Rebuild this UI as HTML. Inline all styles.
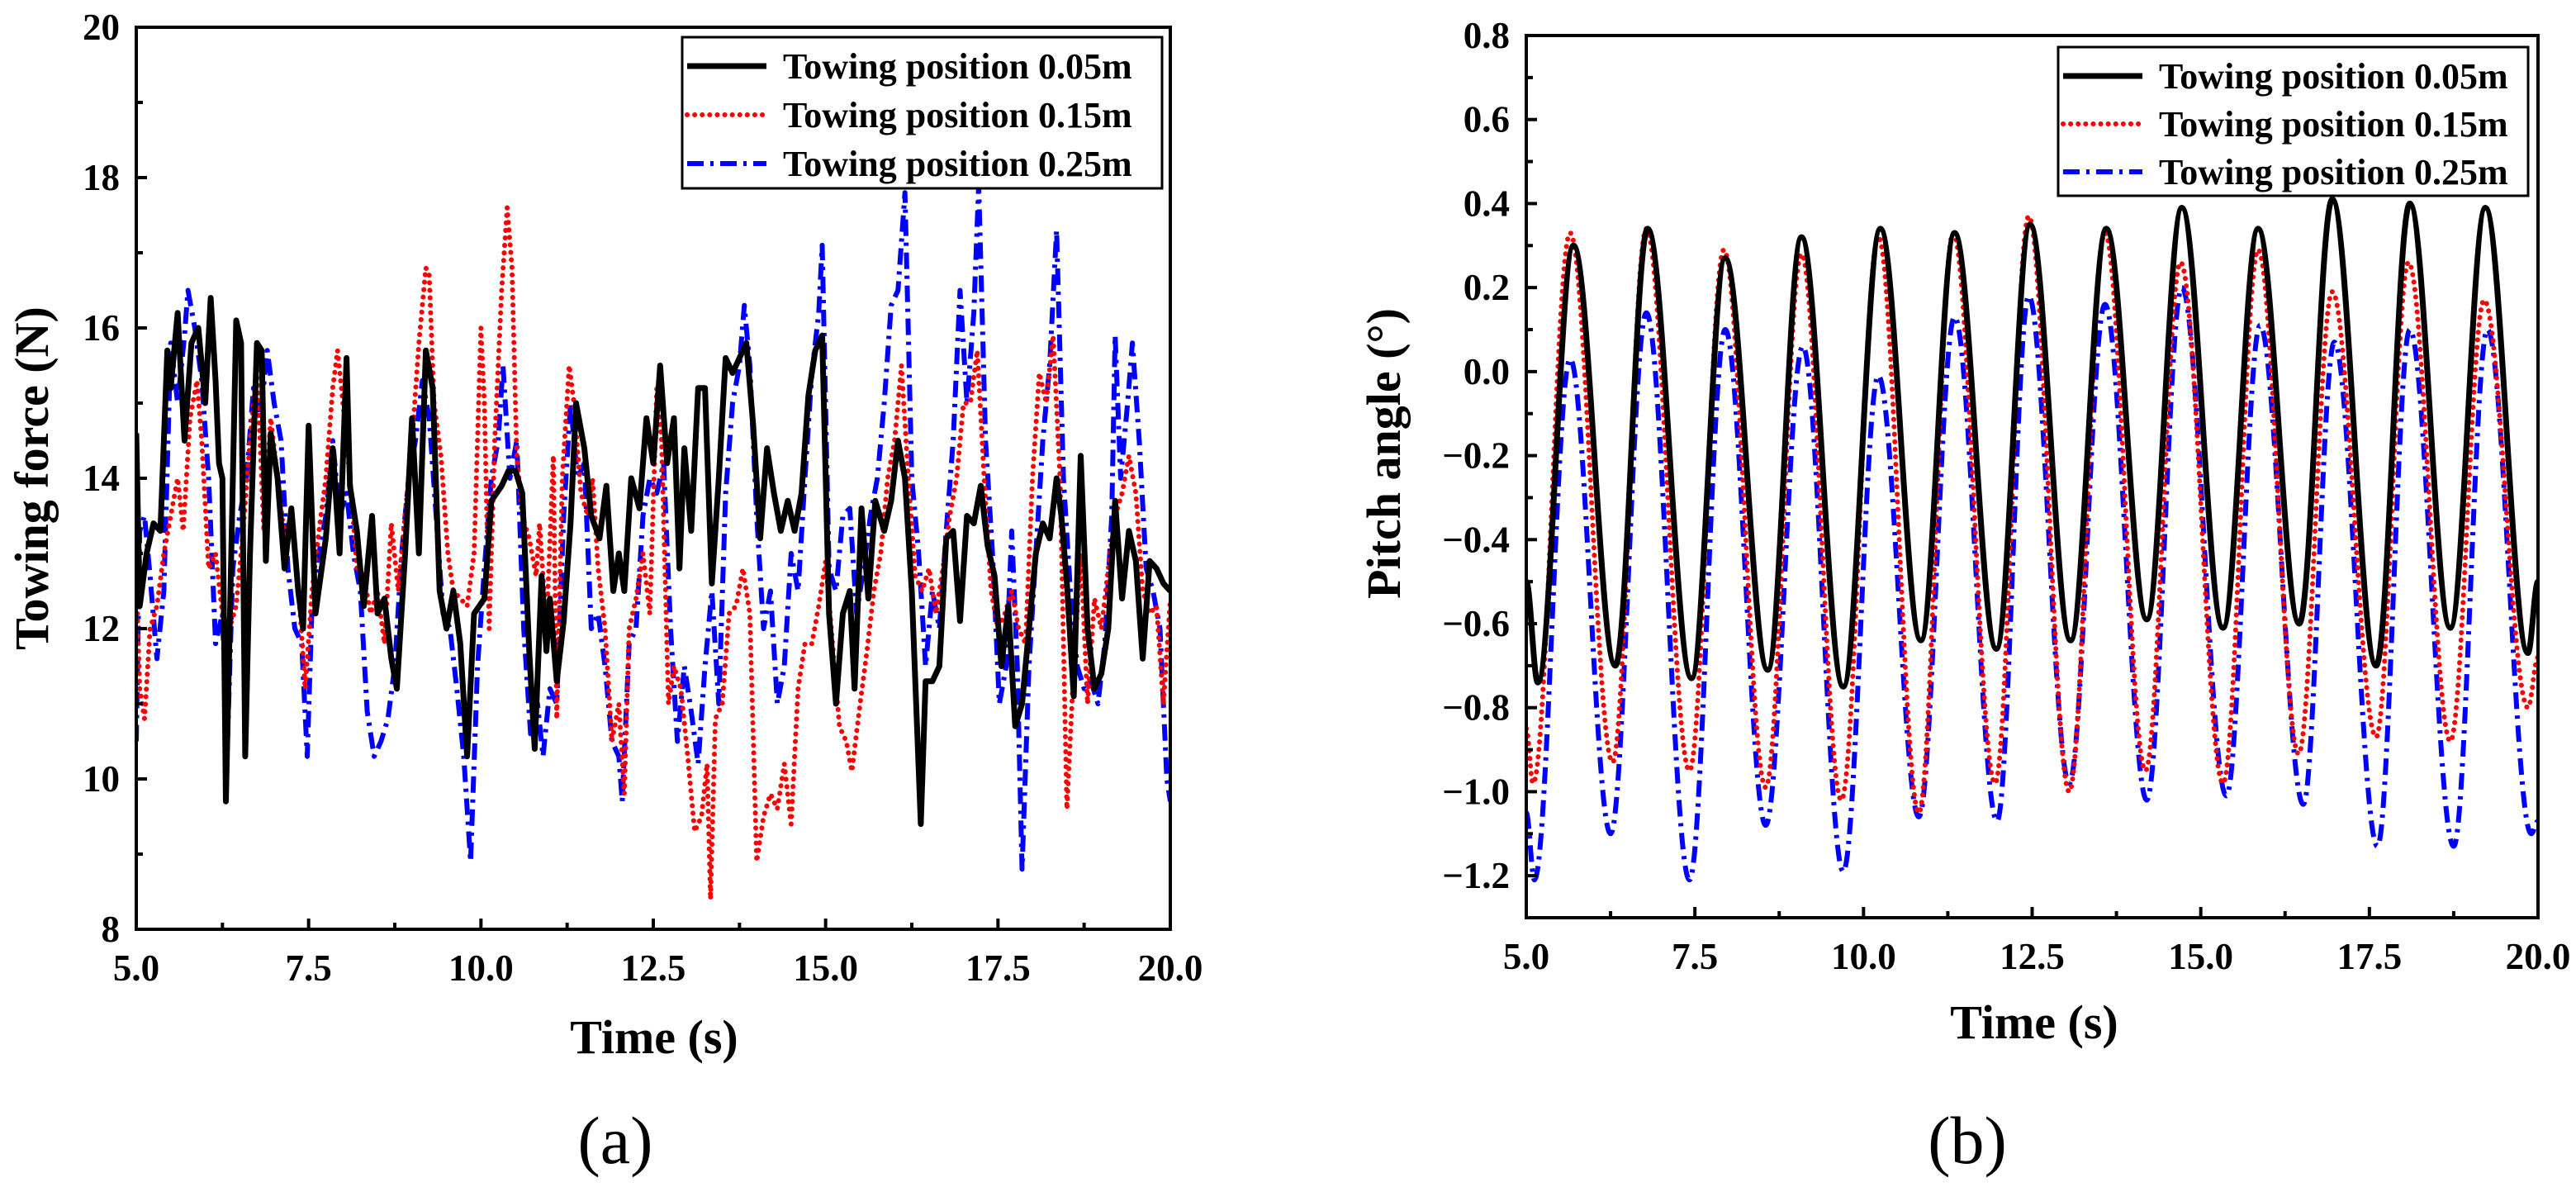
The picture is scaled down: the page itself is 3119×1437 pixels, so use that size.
<!DOCTYPE html>
<html><head><meta charset="utf-8">
<style>
html,body{margin:0;padding:0;background:#fff;overflow:hidden;}
svg{display:block;font-family:"Liberation Serif",serif;}
</style></head>
<body>
<svg id="fig" width="3119" height="1437" viewBox="0 0 3119 1437" xmlns="http://www.w3.org/2000/svg"></svg>
<script>
// ---------- Panel (a) data: towing force ----------
const aBlackT=[5.0,5.05,5.15,5.25,5.35,5.45,5.5,5.6,5.7,5.8,5.9,6.0,6.08,6.15,6.2,6.25,6.3,6.35,6.45,6.52,6.58,6.65,6.75,6.82,6.88,6.95,7.05,7.15,7.25,7.35,7.42,7.5,7.6,7.75,7.85,7.95,8.05,8.1,8.2,8.3,8.42,8.5,8.6,8.7,8.78,8.9,9.0,9.1,9.2,9.3,9.4,9.5,9.6,9.7,9.8,9.9,10.05,10.15,10.3,10.4,10.5,10.6,10.7,10.78,10.88,10.95,11.0,11.1,11.2,11.3,11.38,11.5,11.6,11.72,11.82,11.92,12.0,12.08,12.18,12.3,12.4,12.5,12.6,12.7,12.8,12.88,12.95,13.05,13.15,13.25,13.35,13.45,13.55,13.65,13.75,13.85,13.95,14.05,14.15,14.25,14.35,14.45,14.55,14.65,14.75,14.85,14.95,15.05,15.15,15.25,15.35,15.42,15.52,15.62,15.72,15.85,15.95,16.05,16.15,16.25,16.38,16.45,16.55,16.65,16.75,16.85,16.95,17.05,17.15,17.25,17.35,17.45,17.55,17.65,17.75,17.85,17.95,18.05,18.15,18.25,18.35,18.42,18.5,18.6,18.7,18.8,18.9,19.0,19.1,19.2,19.3,19.4,19.5,19.6,19.7,19.8,19.9,20.0];
const aBlackV=[14.6,12.3,13.0,13.4,13.3,15.7,15.2,16.2,14.5,15.8,16.0,15.0,16.4,15.3,14.2,14.0,9.7,11.8,16.1,15.8,10.3,13.0,15.8,15.7,12.9,14.6,14.0,12.8,13.6,12.5,12.0,14.7,12.2,13.2,14.4,13.0,15.6,13.9,13.3,12.3,13.5,12.2,12.4,11.6,11.2,13.0,14.8,13.0,15.7,15.2,12.5,12.0,12.5,11.8,10.3,12.2,12.4,13.7,13.9,14.1,14.1,13.8,11.7,10.4,12.7,11.7,12.4,11.3,12.1,13.4,15.0,14.4,13.5,13.2,13.9,12.5,13.0,12.5,14.0,13.6,14.8,14.2,15.5,14.2,14.8,12.8,14.4,13.3,15.2,15.2,12.6,14.0,15.6,15.4,15.6,15.8,14.7,13.2,14.4,13.8,13.3,13.7,13.3,13.8,15.1,15.7,15.9,12.2,11.0,12.2,12.5,11.2,13.6,12.4,13.7,13.3,13.7,14.5,14.0,12.5,9.4,11.3,11.3,11.5,13.2,13.3,12.1,13.5,13.4,13.9,13.1,12.7,11.5,12.3,10.7,11.0,12.0,13.0,13.4,13.2,14.0,13.5,12.6,11.1,14.3,12.0,11.2,11.4,12.0,13.7,12.4,13.3,12.9,11.6,12.9,12.8,12.6,12.5];
const aRedT=[5.0,5.05,5.12,5.2,5.3,5.4,5.5,5.6,5.68,5.78,5.88,5.95,6.05,6.15,6.25,6.35,6.45,6.55,6.65,6.75,6.85,6.95,7.05,7.15,7.25,7.35,7.45,7.55,7.65,7.75,7.85,7.92,8.02,8.12,8.2,8.3,8.4,8.5,8.6,8.7,8.8,8.9,9.0,9.1,9.2,9.25,9.32,9.42,9.52,9.6,9.7,9.8,9.9,10.0,10.05,10.12,10.2,10.3,10.38,10.45,10.52,10.6,10.7,10.8,10.85,10.95,11.05,11.1,11.18,11.28,11.35,11.45,11.55,11.62,11.7,11.8,11.9,12.0,12.08,12.15,12.25,12.35,12.45,12.55,12.62,12.72,12.8,12.9,13.0,13.1,13.2,13.28,13.33,13.4,13.5,13.6,13.7,13.8,13.9,14.0,14.1,14.2,14.3,14.4,14.5,14.6,14.7,14.8,14.9,15.0,15.1,15.2,15.3,15.38,15.5,15.6,15.7,15.8,15.9,16.0,16.1,16.2,16.3,16.4,16.5,16.6,16.7,16.8,16.9,17.0,17.1,17.2,17.3,17.4,17.5,17.6,17.7,17.8,17.9,18.0,18.1,18.2,18.3,18.4,18.5,18.6,18.7,18.8,18.9,19.0,19.1,19.2,19.3,19.4,19.5,19.6,19.7,19.8,19.9,20.0];
const aRedV=[12.7,11.2,10.8,12.0,12.3,13.0,13.5,14.0,13.3,14.8,15.3,14.5,12.8,13.0,12.2,12.0,12.3,13.3,14.5,15.5,13.3,14.8,14.0,13.2,13.5,12.6,11.2,12.5,13.3,14.0,15.2,15.7,14.8,13.8,12.8,12.7,12.2,12.5,11.8,13.4,12.5,13.5,14.5,15.8,16.8,16.7,15.0,14.3,13.0,12.5,12.4,12.3,13.0,16.0,15.0,12.0,14.5,16.5,17.6,16.8,14.3,13.5,13.2,12.7,13.4,12.0,14.3,10.8,14.0,15.5,15.0,13.8,13.5,14.0,12.8,12.0,10.5,11.0,9.8,12.0,12.4,13.0,12.2,15.2,14.5,11.0,11.5,11.2,10.3,9.3,9.5,10.2,8.4,10.8,11.0,12.2,12.3,12.8,12.2,8.9,9.5,9.8,9.6,10.2,9.4,11.2,11.8,11.8,12.3,12.9,11.8,10.7,10.5,10.1,11.0,11.7,12.5,13.0,14.0,14.5,15.5,14.0,12.7,12.5,12.8,12.2,12.8,13.5,14.0,15.0,15.0,15.7,14.0,12.5,12.0,12.2,12.5,12.0,11.8,14.0,15.4,15.0,15.9,14.0,9.6,11.5,13.0,11.0,12.4,12.0,12.8,13.5,13.8,14.3,13.8,12.5,12.2,12.3,11.0,12.4];
const aBlueT=[5.0,5.05,5.12,5.2,5.3,5.4,5.5,5.6,5.7,5.75,5.85,5.95,6.05,6.15,6.25,6.32,6.4,6.5,6.6,6.7,6.8,6.9,7.0,7.1,7.2,7.3,7.4,7.48,7.55,7.65,7.75,7.85,7.95,8.05,8.15,8.25,8.35,8.45,8.55,8.65,8.75,8.85,8.95,9.05,9.15,9.25,9.35,9.45,9.55,9.65,9.75,9.85,9.95,10.05,10.15,10.25,10.32,10.42,10.52,10.62,10.72,10.82,10.9,11.0,11.1,11.2,11.3,11.4,11.5,11.6,11.7,11.8,11.9,12.0,12.05,12.15,12.25,12.35,12.45,12.55,12.65,12.75,12.85,12.95,13.05,13.15,13.25,13.35,13.45,13.55,13.65,13.75,13.82,13.9,14.0,14.1,14.2,14.3,14.4,14.5,14.6,14.7,14.8,14.9,14.95,15.05,15.15,15.25,15.35,15.45,15.55,15.65,15.75,15.85,15.95,16.05,16.15,16.25,16.35,16.45,16.55,16.65,16.75,16.85,16.95,17.05,17.15,17.22,17.32,17.42,17.52,17.62,17.7,17.78,17.85,17.95,18.05,18.15,18.25,18.35,18.45,18.55,18.65,18.75,18.85,18.95,19.05,19.15,19.2,19.28,19.38,19.45,19.55,19.65,19.75,19.85,19.95,20.0];
const aBlueV=[10.5,13.3,13.5,12.7,11.6,12.5,15.8,15.0,15.9,16.5,16.0,15.3,14.0,11.8,12.2,10.4,12.8,13.5,14.0,15.2,14.8,15.7,15.0,14.5,12.8,12.0,11.8,10.3,12.3,13.0,13.5,14.5,13.5,13.8,13.0,12.5,10.9,10.3,10.5,10.8,11.5,13.0,14.0,14.5,15.3,14.8,13.5,12.2,12.0,11.2,10.3,8.9,11.5,12.8,14.0,14.5,15.5,14.0,14.5,12.0,10.6,11.0,10.3,11.2,11.0,13.5,15.0,14.0,14.2,12.0,12.2,11.5,10.5,10.3,9.7,11.8,12.0,13.5,14.0,13.8,14.2,12.0,10.5,11.5,10.9,10.2,11.5,12.5,11.0,13.8,15.0,15.5,16.3,15.5,13.5,12.0,12.5,11.0,11.5,13.0,12.5,14.0,15.4,16.2,17.1,12.8,12.5,13.5,13.6,12.2,12.8,13.5,14.0,15.0,16.3,16.5,17.8,14.0,13.0,11.5,12.5,12.0,13.3,14.5,16.5,15.0,16.2,17.9,14.5,13.0,11.0,11.5,13.3,11.5,8.8,11.5,13.0,14.5,15.5,17.3,14.0,12.5,11.5,11.2,11.3,11.0,11.8,13.5,15.9,14.0,15.0,15.8,14.5,12.8,12.5,12.0,10.0,9.7];
const aXTicks=["5.0","7.5","10.0","12.5","15.0","17.5","20.0"];
const aYTicks=["8","10","12","14","16","18","20"];

// ---------- Panel (b) data: pitch angle extrema ----------
const bBlackT=[5.0,5.17,5.7,6.32,6.8,7.45,7.95,8.58,9.08,9.7,10.25,10.85,11.35,11.97,12.47,13.07,13.6,14.2,14.72,15.33,15.85,16.46,16.95,17.6,18.1,18.7,19.22,19.85,20.0];
const bBlackV=[-0.5,-0.74,0.30,-0.70,0.34,-0.73,0.27,-0.71,0.32,-0.75,0.34,-0.64,0.33,-0.66,0.35,-0.64,0.34,-0.59,0.39,-0.61,0.34,-0.60,0.41,-0.70,0.40,-0.61,0.39,-0.67,-0.5];
const bRedT=[5.0,5.1,5.65,6.28,6.78,7.42,7.93,8.55,9.08,9.67,10.22,10.82,11.33,11.95,12.45,13.05,13.58,14.18,14.7,15.33,15.85,16.45,16.95,17.6,18.08,18.7,19.2,19.85,20.0];
const bRedV=[-0.85,-0.98,0.33,-0.93,0.34,-0.95,0.29,-0.99,0.28,-1.02,0.32,-1.05,0.33,-0.98,0.37,-1.0,0.33,-0.95,0.26,-0.98,0.29,-0.91,0.19,-0.87,0.26,-0.88,0.17,-0.80,-0.68];
const bBlueT=[5.0,5.12,5.65,6.25,6.78,7.42,7.95,8.55,9.1,9.7,10.22,10.82,11.35,11.98,12.45,13.05,13.58,14.2,14.72,15.38,15.88,16.52,16.98,17.62,18.1,18.75,19.25,19.9,20.0];
const bBlueV=[-1.05,-1.21,0.03,-1.10,0.14,-1.21,0.10,-1.08,0.06,-1.19,-0.01,-1.06,0.13,-1.07,0.18,-0.98,0.16,-1.02,0.20,-1.01,0.11,-1.03,0.07,-1.13,0.10,-1.13,0.10,-1.10,-1.07];
const bXTicks=["5.0","7.5","10.0","12.5","15.0","17.5","20.0"];
const bYTicks=["-1.2","-1.0","-0.8","-0.6","-0.4","-0.2","0.0","0.2","0.4","0.6","0.8"];

const NS="http://www.w3.org/2000/svg";
const svg=document.getElementById('fig');
function mk(tag,attrs,parent){const e=document.createElementNS(NS,tag);for(const k in attrs)e.setAttribute(k,attrs[k]);(parent||svg).appendChild(e);return e;}

function linePath(ts,vs,sx,sy){return ts.map((t,i)=>(i?'L':'M')+sx(t).toFixed(1)+' '+sy(vs[i]).toFixed(1)).join(' ');}
function smoothPath(ts,vs,sx,sy){let d='M'+sx(ts[0]).toFixed(1)+' '+sy(vs[0]).toFixed(1);
  for(let i=1;i<ts.length;i++){const x0=sx(ts[i-1]),x1=sx(ts[i]),y0=sy(vs[i-1]),y1=sy(vs[i]);const dx=(x1-x0)*0.36;
    d+=' C'+(x0+dx).toFixed(1)+' '+y0.toFixed(1)+' '+(x1-dx).toFixed(1)+' '+y1.toFixed(1)+' '+x1.toFixed(1)+' '+y1.toFixed(1);}
  return d;}

const styles=[
 {stroke:'#000',w:7,dash:null,cap:'butt'},
 {stroke:'#ff0000',w:6,dash:'0.1 9',cap:'round'},
 {stroke:'#0000ff',w:6,dash:'20 8 4 8',cap:'butt'}];
const legendLabels=["Towing position 0.05m","Towing position 0.15m","Towing position 0.25m"];

function panel(o){
  const g=mk('g',{});  
  const sx=t=>o.x0+(t-o.xmin)/(o.xmax-o.xmin)*(o.x1-o.x0);
  const sy=v=>o.y1-(v-o.ymin)/(o.ymax-o.ymin)*(o.y1-o.y0);
  const clipId='clip'+o.id;
  const cp=mk('clipPath',{id:clipId},g); mk('rect',{x:o.x0,y:o.y0,width:o.x1-o.x0,height:o.y1-o.y0},cp);
  const series=[[o.s[0],o.s[1]],[o.s[2],o.s[3]],[o.s[4],o.s[5]]];
  const sg=mk('g',{'clip-path':'url(#'+clipId+')'},g);
  const names=['series-0-05m','series-0-15m','series-0-25m'];
  [2,1,0].forEach(i=>{const st=styles[i];
    const p=mk('path',{d:(o.smooth?smoothPath:linePath)(series[i][0],series[i][1],sx,sy),fill:'none',stroke:st.stroke,'stroke-width':st.w,'stroke-linejoin':'round','stroke-linecap':st.cap},sg);
    if(st.dash)p.setAttribute('stroke-dasharray',st.dash);
    
    });
  const fr=mk('rect',{x:o.x0,y:o.y0,width:o.x1-o.x0,height:o.y1-o.y0,fill:'none',stroke:'#000','stroke-width':4},g);
   
  const xstep=(o.xmax-o.xmin)/(o.xTicks.length-1);
  for(let i=0;i<o.xTicks.length;i++){const v=o.xmin+i*xstep;const X=sx(v);
    mk('line',{x1:X,y1:o.y1,x2:X,y2:o.y1-13,stroke:'#000','stroke-width':4},g);
    if(i<o.xTicks.length-1){const Xm=sx(v+xstep/2);mk('line',{x1:Xm,y1:o.y1,x2:Xm,y2:o.y1-8,stroke:'#000','stroke-width':4},g);}
    const t=mk('text',{x:X,y:o.y1+62,'font-size':45,'font-weight':'bold','text-anchor':'middle'},g);t.textContent=o.xTicks[i];
     }
  const ystep=(o.yTickMax-o.yTickMin)/(o.yTicks.length-1);
  for(let i=0;i<o.yTicks.length;i++){const v=o.yTickMin+i*ystep;const Y=sy(v);
    mk('line',{x1:o.x0,y1:Y,x2:o.x0+13,y2:Y,stroke:'#000','stroke-width':4},g);
    const vm=v+ystep/2; if(vm<o.ymax){const Ym=sy(vm);mk('line',{x1:o.x0,y1:Ym,x2:o.x0+8,y2:Ym,stroke:'#000','stroke-width':4},g);}
    const vmb=v-ystep/2; if(i==0&&vmb>=o.ymin){const Ym=sy(vmb);mk('line',{x1:o.x0,y1:Ym,x2:o.x0+8,y2:Ym,stroke:'#000','stroke-width':4},g);}
    const t=mk('text',{x:o.x0-20,y:Y+15,'font-size':45,'font-weight':'bold','text-anchor':'end'},g);t.textContent=o.yTicks[i].replace('-','\u2212');
     }
  const xt=mk('text',{x:o.xtx,y:o.xty,'font-size':58,'font-weight':'bold','text-anchor':'middle'},g);xt.textContent='Time (s)';
   
  const yt=mk('text',{x:0,y:0,'font-size':58,'font-weight':'bold','text-anchor':'middle',transform:'translate('+o.ytx+','+o.yty+') rotate(-90)'},g);yt.textContent=o.ytitle;
   
  const cap=mk('text',{x:o.capx,y:1408,'font-size':82,'text-anchor':'middle'},g);cap.textContent=o.caption;
   
  const lg=mk('g',{},g);  
  mk('rect',{x:o.lx0,y:o.ly0,width:o.lx1-o.lx0,height:o.ly1-o.ly0,fill:'#fff',stroke:'#000','stroke-width':3},lg);
  for(let i=0;i<3;i++){const Y=o.ly0+35+i*o.lgap;const st=styles[i];
    const e=mk('g',{},lg);  
    const l=mk('line',{x1:o.lx0+6,y1:Y,x2:o.lx0+102,y2:Y,stroke:st.stroke,'stroke-width':st.w,'stroke-linecap':st.cap},e);
    if(st.dash)l.setAttribute('stroke-dasharray',st.dash);
    const t=mk('text',{x:o.lx0+122,y:Y+15,'font-size':44,'font-weight':'bold'},e);t.textContent=legendLabels[i];}
}

panel({id:'a',name:'panel-a-towing-force',x0:165,x1:1417,y0:33,y1:1125,xmin:5,xmax:20,ymin:8,ymax:20,yTickMin:8,yTickMax:20,
  xTicks:aXTicks,yTicks:aYTicks,s:[aBlackT,aBlackV,aRedT,aRedV,aBlueT,aBlueV],smooth:false,
  xtx:792,xty:1275,ytx:58,yty:579,ytitle:'Towing force (N)',caption:'(a)',capx:745,
  lx0:826,lx1:1407,ly0:45,ly1:228,lgap:59});
panel({id:'b',name:'panel-b-pitch-angle',x0:1848,x1:3073,y0:43,y1:1111,xmin:5,xmax:20,ymin:-1.3,ymax:0.8,yTickMin:-1.2,yTickMax:0.8,
  xTicks:bXTicks,yTicks:bYTicks,s:[bBlackT,bBlackV,bRedT,bRedV,bBlueT,bBlueV],smooth:true,
  xtx:2463,xty:1257,ytx:1695,yty:549,ytitle:'Pitch angle (°)',caption:'(b)',capx:2382,
  lx0:2492,lx1:3061,ly0:57,ly1:237,lgap:58});
</script>
</body></html>
